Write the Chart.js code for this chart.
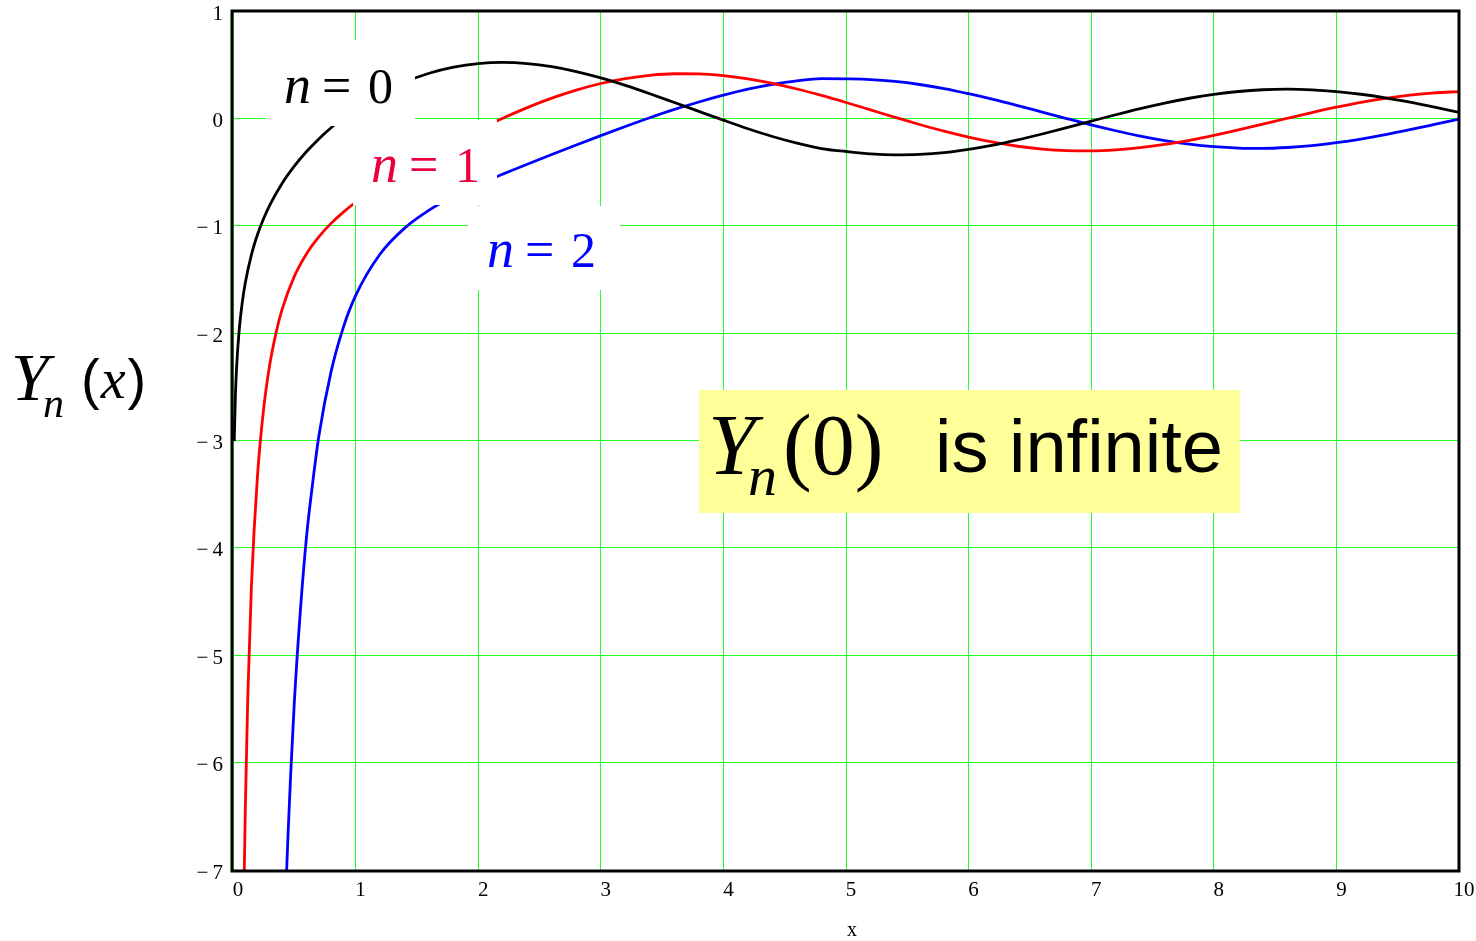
<!DOCTYPE html>
<html>
<head>
<meta charset="utf-8">
<title>Bessel Y</title>
<script src="https://cdn.jsdelivr.net/npm/chart.js@4.4.1/dist/chart.umd.min.js"></script>
<style>
  html, body { margin: 0; padding: 0; background: #fff; }
  canvas { display: block; }
</style>
</head>
<body>
<canvas id="grafico" width="1476" height="941"></canvas>
<script>
// x values shared by all three curves from x = 1 onwards
const xCauda = [1.0, 1.2, 1.4, 1.6, 1.8, 2.0, 2.2, 2.4, 2.6, 2.8,
  3.0, 3.2, 3.4, 3.6, 3.8, 4.0, 4.2, 4.4, 4.6, 4.8,
  5.0, 5.2, 5.4, 5.6, 5.8, 6.0, 6.2, 6.4, 6.6, 6.8,
  7.0, 7.2, 7.4, 7.6, 7.8, 8.0, 8.2, 8.4, 8.6, 8.8,
  9.0, 9.2, 9.4, 9.6, 9.8, 10.0];

// n = 0
const xInicio0 = [0.01, 0.02, 0.03, 0.05, 0.075, 0.1, 0.15, 0.2, 0.25, 0.3, 0.4, 0.5, 0.6, 0.7, 0.8, 0.9];
const yInicio0 = [-3.006, -2.564, -2.306, -1.979, -1.720, -1.534, -1.271, -1.081, -0.932, -0.807, -0.606, -0.445, -0.309, -0.191, -0.087, 0.006];
const yCauda0 = [0.0883, 0.2281, 0.3379, 0.4204, 0.4774, 0.5104, 0.5208, 0.5104, 0.4813, 0.4359,
  0.3769, 0.3071, 0.2296, 0.1477, 0.0654, -0.0169, -0.0966, -0.1688, -0.2311, -0.2807,
  -0.3085, -0.3313, -0.3402, -0.3358, -0.3189, -0.2882, -0.2488, -0.2003, -0.1455, -0.0866,
  -0.0259, 0.0338, 0.0908, 0.1425, 0.1874, 0.2237, 0.2504, 0.2665, 0.2717, 0.2661,
  0.2499, 0.2248, 0.1910, 0.1503, 0.1046, 0.0557];

// n = 1
const xInicio1 = [0.085, 0.09, 0.1, 0.12, 0.15, 0.2, 0.25, 0.3, 0.35, 0.4, 0.5, 0.6, 0.7, 0.8, 0.9];
const yInicio1 = [-7.57, -7.16, -6.459, -5.409, -4.364, -3.324, -2.704, -2.293, -2.002, -1.781, -1.472, -1.260, -1.103, -0.978, -0.873];
const yCauda1 = [-0.7812, -0.6211, -0.4791, -0.3476, -0.2237, -0.1070, 0.0015, 0.1005, 0.1884, 0.2635,
  0.3247, 0.3707, 0.4010, 0.4154, 0.4141, 0.3979, 0.3680, 0.3260, 0.2737, 0.2136,
  0.1479, 0.0792, 0.0101, -0.0568, -0.1192, -0.1750, -0.2223, -0.2596, -0.2858, -0.3002,
  -0.3027, -0.2934, -0.2731, -0.2428, -0.2039, -0.1581, -0.1072, -0.0535, 0.0011, 0.0544,
  0.1043, 0.1491, 0.1871, 0.2171, 0.2379, 0.2490];

// n = 2
const xInicio2 = [0.43, 0.44, 0.45, 0.47, 0.5, 0.55, 0.6, 0.65, 0.7, 0.8, 0.9];
const yInicio2 = [-7.24, -6.93, -6.64, -6.12, -5.441, -4.577, -3.893, -3.395, -2.961, -2.359, -1.946];
const yCauda2 = [-1.6507, -1.2633, -1.0223, -0.8549, -0.7260, -0.6174, -0.5194, -0.4266, -0.3364, -0.2477,
  -0.1604, -0.0754, 0.0063, 0.0831, 0.1525, 0.2159, 0.2718, 0.3170, 0.3501, 0.3697,
  0.3677, 0.3618, 0.3439, 0.3155, 0.2778, 0.2299, 0.1771, 0.1192, 0.0589, -0.0017,
  -0.0606, -0.1153, -0.1646, -0.2064, -0.2397, -0.2632, -0.2765, -0.2792, -0.2714, -0.2537,
  -0.2267, -0.1924, -0.1512, -0.1051, -0.0560, -0.0059];

const ticksX = [0, 1, 2, 3, 4, 5, 6, 7, 8, 9, 10];
const ticksY = [-7, -6, -5, -4, -3, -2, -1, 0, 1];

const serif = "'Liberation Serif', 'Times New Roman', serif";
const sans = "'Liberation Sans', Arial, sans-serif";
const verde = '#22ff22';

function montaPontos(xs, ys) {
  return xs.map((x, i) => ({ x: x, y: ys[i] }));
}

function serie(xInicio, yInicio, yCauda, cor) {
  return {
    data: montaPontos(xInicio.concat(xCauda), yInicio.concat(yCauda)),
    borderColor: cor,
    borderWidth: 2.8,
    pointRadius: 0,
    fill: false,
    cubicInterpolationMode: 'monotone'
  };
}

// texto com partes em italico, escrito da esquerda para a direita
function escreve(ctx, partes) {
  partes.forEach((p) => {
    ctx.font = p.font;
    ctx.fillStyle = p.cor || '#000';
    ctx.textAlign = p.align || 'left';
    ctx.textBaseline = 'alphabetic';
    ctx.fillText(p.t, p.x, p.y);
  });
}

function rotuloN(ctx, num, x, y, cor) {
  escreve(ctx, [
    { t: 'n', x: x, y: y, font: 'italic 54px ' + serif, cor: cor },
    { t: '=', x: x + 38, y: y, font: '52px ' + serif, cor: cor },
    { t: num, x: x + 84, y: y, font: '50px ' + serif, cor: cor }
  ]);
}

const rotulos = {
  id: 'rotulos',
  afterDatasetsDraw(chart) {
    const ctx = chart.ctx;
    const area = chart.chartArea;
    ctx.save();

    // caixas brancas dos rotulos n = 0, 1, 2
    ctx.fillStyle = '#fff';
    ctx.fillRect(266, 40, 149, 86);
    ctx.fillRect(353, 120, 144, 85);
    ctx.fillRect(468, 206, 152, 84);

    rotuloN(ctx, '0', 284, 103, '#000');
    rotuloN(ctx, '1', 371, 182, '#e8003f');
    rotuloN(ctx, '2', 487, 267, '#0000ff');

    // caixa amarela
    ctx.fillStyle = '#ffff99';
    ctx.fillRect(699, 390, 541, 123);
    escreve(ctx, [
      { t: 'Y', x: 708, y: 474, font: 'italic 86px ' + serif },
      { t: 'n', x: 748, y: 495, font: 'italic 58px ' + serif },
      { t: '(0)', x: 783, y: 474, font: '86px ' + serif },
      { t: 'is infinite', x: 935, y: 472, font: '74px ' + sans }
    ]);

    // moldura do grafico
    ctx.strokeStyle = '#000';
    ctx.lineWidth = 3;
    ctx.strokeRect(area.left - 1, area.top, area.right - area.left + 1, area.bottom - area.top + 1);
    ctx.restore();
  },
  afterDraw(chart) {
    const ctx = chart.ctx;
    ctx.save();
    // titulo do eixo y: Y_n (x)
    escreve(ctx, [
      { t: 'Y', x: 11, y: 400, font: 'italic 68px ' + serif },
      { t: 'n', x: 43, y: 417, font: 'italic 42px ' + serif }
    ]);
    ctx.font = '56px ' + sans;
    const wPar = ctx.measureText('(').width;
    ctx.font = 'italic 56px ' + serif;
    const wX = ctx.measureText('x').width;
    escreve(ctx, [
      { t: '(', x: 81, y: 398, font: '56px ' + sans },
      { t: 'x', x: 81 + wPar + 1, y: 398, font: 'italic 56px ' + serif },
      { t: ')', x: 81 + wPar + wX + 3, y: 398, font: '56px ' + sans }
    ]);
    // titulo do eixo x
    escreve(ctx, [{ t: 'x', x: 852, y: 936, font: '20px ' + serif, align: 'center' }]);
    ctx.restore();
  }
};

const graficoBessel = new Chart(document.getElementById('grafico'), {
  type: 'line',
  data: {
    datasets: [
      serie(xInicio0, yInicio0, yCauda0, '#000000'),
      serie(xInicio1, yInicio1, yCauda1, '#ff0000'),
      serie(xInicio2, yInicio2, yCauda2, '#0000ff')
    ]
  },
  options: {
    responsive: false,
    animation: false,
    devicePixelRatio: 1,
    layout: { padding: { left: 0, top: 11, right: 17, bottom: 0 } },
    plugins: {
      legend: { display: false },
      tooltip: { enabled: false }
    },
    scales: {
      x: {
        type: 'linear',
        min: ticksX[0],
        max: ticksX[ticksX.length - 1],
        afterBuildTicks: (scale) => { scale.ticks = ticksX.map((v) => ({ value: v })); },
        afterFit: (scale) => {
          scale.height = 71;
          scale.paddingLeft = 0;
          scale.paddingRight = 0;
        },
        grid: { color: verde, lineWidth: 1, drawTicks: false },
        border: { display: false },
        ticks: {
          color: '#000',
          font: { family: serif, size: 21, lineHeight: 1 },
          padding: 10,
          labelOffset: 5,
          maxRotation: 0
        }
      },
      y: {
        type: 'linear',
        min: ticksY[0],
        max: ticksY[ticksY.length - 1],
        afterBuildTicks: (scale) => { scale.ticks = ticksY.map((v) => ({ value: v })); },
        afterFit: (scale) => {
          scale.width = 233;
          scale.paddingTop = 0;
          scale.paddingBottom = 0;
        },
        grid: { color: verde, lineWidth: 1, drawTicks: false },
        border: { display: false },
        ticks: {
          color: '#000',
          font: { family: serif, size: 21, lineHeight: 1 },
          padding: 10,
          labelOffset: 3,
          callback: (v) => (v < 0 ? '\u2212\u2009' + Math.abs(v) : String(v))
        }
      }
    }
  },
  plugins: [rotulos]
});
</script>
</body>
</html>
